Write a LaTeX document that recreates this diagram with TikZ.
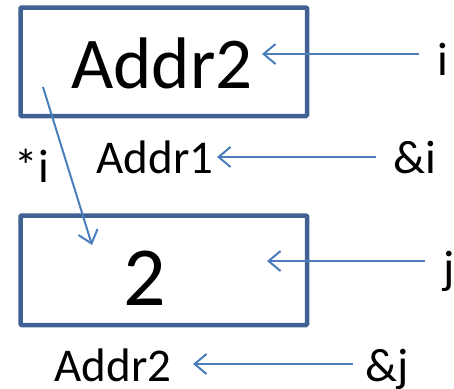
\documentclass[tikz,border=0pt]{standalone}
\usepackage{fontspec}
\setmainfont{Carlito}
\usetikzlibrary{arrows.meta}
\definecolor{boxblue}{HTML}{3F6292}
\definecolor{arrblue}{HTML}{4A7EBB}
\tikzset{
  cell/.style={draw=boxblue, line width=4.5pt, rounded corners=1pt},
  lbl/.style={anchor=base, inner sep=0pt, font=\fontsize{47}{50}\selectfont},
  arr/.style={draw=arrblue, line width=2pt, -{Straight Barb[length=12pt, width=20pt, line width=2pt]}}
}
\begin{document}
\begin{tikzpicture}[x=1pt, y=-1pt]
\useasboundingbox (0,0) rectangle (454,388);
% boxes
\draw[cell] (20.5,7.5) rectangle (307,116);
\draw[cell] (20.5,215.5) rectangle (307,325);
% texts
\node[anchor=base, inner sep=0pt, font=\fontsize{73}{80}\selectfont] (top) at (162,88) {Addr2};
\node[anchor=base, inner sep=0pt, font=\fontsize{84}{90}\selectfont] (val) at (145,305) {2};
\node[lbl] (i) at (443,75) {i};
\node[lbl] (a1) at (155,173) {Addr1};
\node[lbl] (ai) at (415,173) {\&i};
\node[lbl] (si) at (32,182) {*i};
\node[lbl] (j) at (449,283) {j};
\node[lbl] (a2) at (113,381) {Addr2};
\node[lbl] (aj) at (387,381) {\&j};
% connector end points
\coordinate (iS) at (419,54);
\coordinate (iE) at (262,54);
\coordinate (aiS) at (376,157);
\coordinate (aiE) at (217,157);
\coordinate (jS) at (425,261);
\coordinate (jE) at (267,261);
\coordinate (ajS) at (353,364);
\coordinate (ajE) at (193,364);
\coordinate (dS) at (43,87);
\coordinate (dE) at (92,245);
% connectors
\draw[arr] (iS) -- (iE);
\draw[arr] (aiS) -- (aiE);
\draw[arr] (jS) -- (jE);
\draw[arr] (ajS) -- (ajE);
\draw[arr] (dS) -- (dE);
\end{tikzpicture}
\end{document}
